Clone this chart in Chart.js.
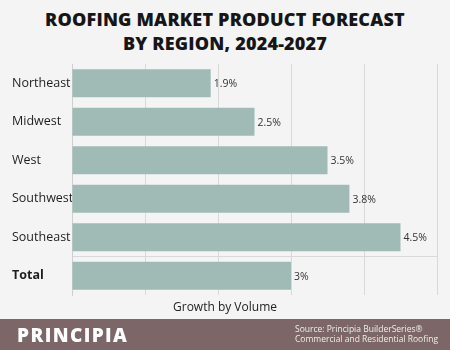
<!DOCTYPE html>
<html>
<head>
<meta charset="utf-8">
<script src="https://cdn.jsdelivr.net/npm/chart.js@4.4.0/dist/chart.umd.min.js"></script>
<style>
  html, body { margin: 0; padding: 0; }
  body { width: 450px; height: 350px; background: #f4f4f4; position: relative; overflow: hidden; font-family: "Open Sans", sans-serif; }
  #title { position: absolute; top: 7px; left: 0; width: 450px; text-align: center; font-weight: 800; font-size: 18px; line-height: 24px; color: #161616; letter-spacing: 0.2px; }
  #chartBox { position: absolute; left: 0; top: 0; width: 450px; height: 320px; }
  #xtitle { position: absolute; top: 298px; left: 0; width: 450px; text-align: center; font-size: 12px; color: #222; }
  #footer { position: absolute; left: 0; top: 319px; width: 450px; height: 31px; background: #7c6667; }
  #brand { position: absolute; left: 17px; top: 3px; font-size: 19px; font-weight: 800; color: #fff; letter-spacing: 1.4px; }
  #source { position: absolute; left: 295px; top: 5px; font-size: 8.5px; line-height: 10px; color: #eee; }
</style>
</head>
<body>
<div id="title">ROOFING MARKET PRODUCT FORECAST<br>BY REGION, 2024-2027</div>
<div id="chartBox"><canvas id="chart"></canvas></div>
<div id="xtitle">Growth by Volume</div>
<div id="footer">
  <div id="brand">PRINCIPIA</div>
  <div id="source">Source: Principia BuilderSeries®<br>Commercial and Residential Roofing</div>
</div>
<script>
const regions = ['Northeast', 'Midwest', 'West', 'Southwest', 'Southeast', 'Total'];
const growth = [1.9, 2.5, 3.5, 3.8, 4.5, 3];
const growthLabels = ['1.9%', '2.5%', '3.5%', '3.8%', '4.5%', '3%'];

// draws the % text at the end of each bar
const valueLabels = {
  id: 'valueLabels',
  afterDatasetsDraw(chart) {
    const ctx = chart.ctx;
    const meta = chart.getDatasetMeta(0);
    ctx.save();
    ctx.font = '10.5px "Open Sans", sans-serif';
    ctx.fillStyle = '#333';
    ctx.textBaseline = 'middle';
    meta.data.forEach((bar, i) => {
      ctx.fillText(growthLabels[i], bar.x + 3, bar.y + 1);
    });
    ctx.restore();
  }
};

new Chart(document.getElementById('chart'), {
  type: 'bar',
  data: {
    labels: regions,
    datasets: [{
      data: growth,
      backgroundColor: '#a0bbb6',
      barPercentage: 0.73,
      categoryPercentage: 1
    }]
  },
  plugins: [valueLabels],
  options: {
    indexAxis: 'y',
    responsive: true,
    maintainAspectRatio: false,
    animation: false,
    layout: { padding: { left: 12, right: 13, top: 64, bottom: 25 } },
    plugins: { legend: { display: false }, tooltip: { enabled: false } },
    scales: {
      x: {
        min: 0,
        max: 5,
        ticks: { display: false, stepSize: 1 },
        grid: { color: '#d9d9d9', drawTicks: false },
        border: { display: false }
      },
      y: {
        afterFit(scale) { scale.width = 60; },
        ticks: {
          crossAlign: 'far',
          color: '#1e1e1e',
          font: (c) => ({ family: '"Open Sans", sans-serif', size: 12.5, weight: c.index === 5 ? 'bold' : 'normal' })
        },
        grid: {
          drawTicks: false,
          color: (c) => c.index === 5 ? '#d9d9d9' : 'rgba(0,0,0,0)'
        },
        border: { color: '#cfcfcf' }
      }
    }
  }
});
</script>
</body>
</html>
